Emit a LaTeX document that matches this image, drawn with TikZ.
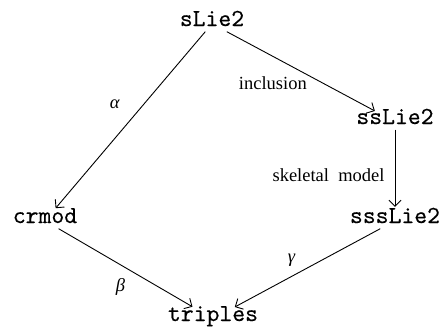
\documentclass[tikz,border=0pt]{standalone}
\usepackage{fontspec}
\setmainfont{Liberation Serif}
\newfontfamily\objfont{lmmono10-regular.otf}[FakeBold=0.3]
\usetikzlibrary{arrows.meta}

\begin{document}
\begin{tikzpicture}[
  obj/.style = {font=\fontsize{24.5}{28}\selectfont\objfont, text height=0.7em, text depth=0.25em, inner sep=3pt, anchor=base},
  lbl/.style = {font=\fontsize{18.5}{22}\selectfont, inner sep=1pt},
  mor/.style = {-{Straight Barb[length=6pt,width=12pt]}, line width=0.9pt, shorten >=6pt},
  x=1pt, y=-1pt,
]
  \useasboundingbox (0,0) rectangle (445,330);

  \node[obj] (slie)   at (212,26)  {sLie2};
  \node[obj] (sslie)  at (395,124) {ssLie2};
  \node[obj] (crmod)  at (45,223)  {crmod};
  \node[obj] (ssslie) at (395,223) {sssLie2};
  \node[obj] (trip)   at (213,321) {triples};

  \draw[mor] (slie) -- node[lbl, pos=0.40, xshift=-29pt] (la) {\textit{α}} (crmod);
  \draw[mor] (slie) -- node[lbl, pos=0.30, yshift=-27pt] (li) {inclusion} (sslie);
  \draw[mor] (sslie) -- node[lbl, pos=0.5, left=9pt, yshift=-4pt] (ls) {skeletal~ model} (ssslie);
  \draw[mor, shorten >=8pt] (crmod) -- node[lbl, pos=0.44, yshift=-22pt] (lb) {\textit{β}} (trip);
  \draw[mor, shorten >=8pt] (ssslie) -- node[lbl, pos=0.58, yshift=16pt] (lg) {\textit{γ}} (trip);
\end{tikzpicture}
\end{document}
